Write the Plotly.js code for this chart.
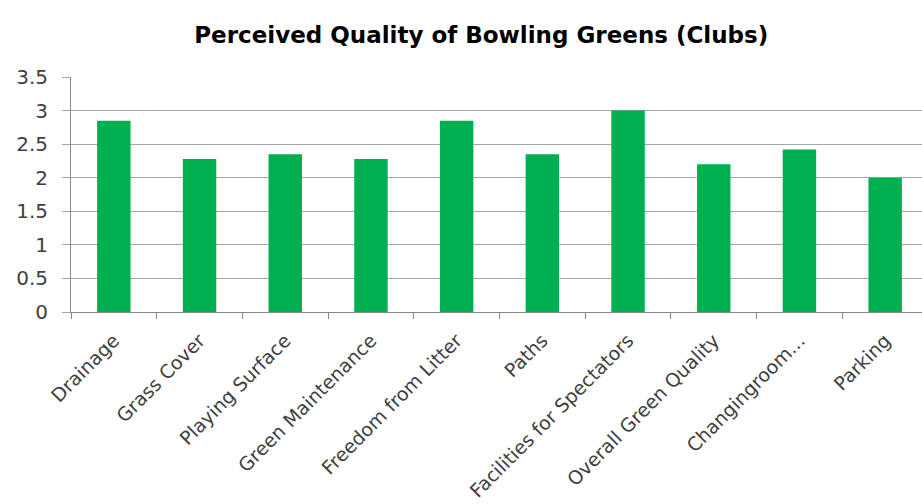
<!DOCTYPE html>
<html><head><meta charset="utf-8">
<script src="https://cdn.plot.ly/plotly-3.0.1.min.js"></script>
<style>html,body{margin:0;padding:0;background:#fff;}#chart{width:922px;height:504px;}</style>
</head><body><div id="chart"></div>
<script>
const categories = ["Drainage","Grass Cover","Playing Surface","Green Maintenance","Freedom from Litter","Paths","Facilities for Spectators","Overall Green Quality","Changingroom...","Parking"];
const values = [2.85, 2.28, 2.35, 2.28, 2.85, 2.35, 3.0, 2.2, 2.42, 2.0];
const yTicks = [0, 0.5, 1, 1.5, 2, 2.5, 3, 3.5];
const yTickLabels = ["0","0.5","1","1.5","2","2.5","3","3.5"];

const trace = {type:'bar', x: categories, y: values, marker:{color:'#00b050'}, hoverinfo:'x+y'};
const layout = {
  width:922, height:504,
  margin:{l:71, r:0, t:77, b:192},
  paper_bgcolor:'#fff', plot_bgcolor:'#fff',
  bargap:0.61,
  showlegend:false,
  title:{text:'<b>Perceived Quality of Bowling Greens (Clubs)</b>', x:0.522, xanchor:'center', y:0.93, yanchor:'middle', font:{family:'DejaVu Sans', size:23, color:'#000'}},
  xaxis:{type:'category', range:[-0.5, 9.43], tickangle:-45, tickfont:{family:'DejaVu Sans', size:19, color:'#404040'},
    ticks:'outside', tickson:'boundaries', ticklen:6, tickcolor:'#888', ticklabelstandoff:9, showline:true, linecolor:'#888', linewidth:1, showgrid:false, automargin:false},
  yaxis:{range:[0,3.5], tickvals:yTicks, ticktext:yTickLabels, tickfont:{family:'DejaVu Sans', size:20, color:'#404040'},
    showgrid:true, gridcolor:'#a6a6a6', gridwidth:1, showline:true, linecolor:'#888', ticks:'outside', ticklen:8, tickcolor:'#a6a6a6', ticklabelstandoff:10, zeroline:false, automargin:false}
};
Plotly.newPlot('chart',[trace],layout,{displayModeBar:false, staticPlot:true});
</script></body></html>
